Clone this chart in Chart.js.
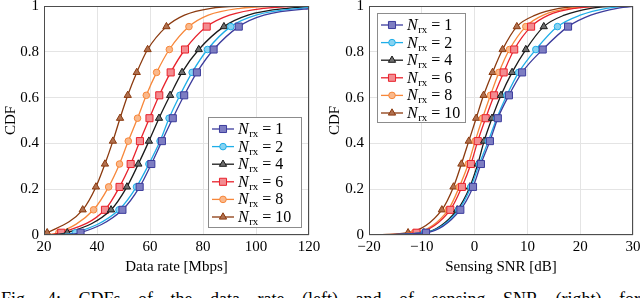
<!DOCTYPE html>
<html>
<head>
<meta charset="utf-8">
<script src="https://cdn.jsdelivr.net/npm/chart.js@4.4.0/dist/chart.umd.min.js"></script>
<style>
  html, body { margin: 0; padding: 0; background: #fff; }
  body { width: 640px; height: 298px; position: relative; overflow: hidden; }
  .box { position: absolute; top: 0; width: 320px; height: 276px; }
  #caption { position: absolute; left: 1px; top: 290px; font: 18px "Liberation Serif", serif; line-height: 18px; white-space: nowrap; word-spacing: 13px; color: #000; }
</style>
</head>
<body>
<div class="box" style="left:0"><canvas id="rateChart" width="320" height="276"></canvas></div>
<div class="box" style="left:320px"><canvas id="snrChart" width="320" height="276"></canvas></div>
<div id="caption">Fig. 4: CDFs of the data rate (left) and of sensing SNR (right) for</div>
<script>
// CDF levels; markers sit on the 0.01 ... 0.91 levels
const cdfLevels = [0, 0.01, 0.11, 0.21, 0.31, 0.41, 0.51, 0.61, 0.71, 0.81, 0.91, 0.96, 0.99, 1];
const markerIdx = [1, 2, 3, 4, 5, 6, 7, 8, 9, 10];

const rxCounts = ['1', '2', '4', '6', '8', '10'];

// data rate [Mbps] reached at each CDF level
const rateN1 = [26, 33.8, 49.6, 56.1, 60.5, 64.5, 68.6, 72.9, 77.7, 84.0, 93.5, 103, 122, 140];
const rateN2 = [25, 31.9, 48.3, 54.9, 59.6, 63.8, 67.2, 71.3, 75.9, 81.7, 90.5, 100, 117, 135];
const rateN4 = [23, 28.8, 45.3, 51.3, 55.6, 59.6, 63.4, 67.6, 72.1, 78.4, 87.9, 97, 112, 130];
const rateN6 = [22, 26.5, 43.0, 48.5, 52.7, 56.2, 59.8, 63.5, 67.8, 73.2, 81.4, 90, 103, 120];
const rateN8 = [21, 25.6, 38.7, 44.4, 48.5, 51.8, 55.3, 58.6, 62.5, 67.3, 74.7, 82, 94, 110];
const rateN10 = [19, 21.2, 34.6, 39.6, 43.0, 46.0, 48.7, 51.6, 55.0, 59.1, 66.2, 73, 83, 98];

// sensing SNR [dB] reached at each CDF level
const snrN1 = [-20, -9.2, -2.7, -0.3, 1.2, 2.9, 4.4, 6.5, 9.0, 12.9, 17.7, 22, 27, 31];
const snrN2 = [-20, -9.5, -3.0, -0.7, 0.9, 2.6, 4.2, 6.1, 8.35, 11.6, 15.7, 20, 25, 30];
const snrN4 = [-20, -9.6, -3.3, -0.9, 0.6, 1.8, 3.3, 5.0, 7.1, 9.7, 13.1, 17, 22, 27];
const snrN6 = [-20, -11.0, -4.6, -2.4, -0.7, 0.6, 2.1, 3.7, 5.5, 7.5, 10.7, 14, 19, 25];
const snrN8 = [-20, -11.4, -5.0, -2.9, -1.2, 0.1, 1.5, 3.0, 4.6, 6.6, 9.7, 13, 18, 24];
const snrN10 = [-20, -12.6, -6.2, -4.0, -2.5, -1.1, 0.3, 1.7, 3.4, 5.3, 8.0, 11.5, 16, 22];

const yTicks = [0, 0.2, 0.4, 0.6, 0.8, 1];
const rateTicks = [20, 40, 60, 80, 100, 120];
const snrTicks = [-20, -10, 0, 10, 20, 30];

const lineColors = ['#3c3c9c', '#1eaee8', '#1a1a1a', '#e8222c', '#f7873a', '#8b3a0f'];
const fillColors = ['#7d7dc2', '#86d3f2', '#6e6e6e', '#f38c91', '#fab88b', '#b0704f'];
const markerStyles = ['rect', 'circle', 'triangle', 'rect', 'circle', 'triangle'];
const markerRadius = { rect: 5, circle: 3.3, triangle: 4.2 };

const SERIF = '"Liberation Serif", "Times New Roman", serif';

const frameLegend = {
    id: 'frameLegend',
    afterDatasetsDraw(chart, args, opts) {
        const { ctx, chartArea: a } = chart;
        ctx.save();
        ctx.strokeStyle = '#4d4d4d';
        ctx.lineWidth = 1;
        ctx.strokeRect(a.left + 0.5, a.top + 0.5, a.right - a.left - 1, a.bottom - a.top - 1);

        // legend box
        const b = opts.box;
        ctx.fillStyle = '#fff';
        ctx.fillRect(b.x, b.y, b.w, b.h);
        ctx.strokeStyle = '#8c8c8c';
        ctx.strokeRect(b.x + 0.5, b.y + 0.5, b.w - 1, b.h - 1);

        chart.data.datasets.forEach((ds, i) => {
            const cy = b.y + 12 + i * 17.6;
            const x0 = b.x + 4;
            ctx.strokeStyle = ds.borderColor;
            ctx.lineWidth = 1.3;
            ctx.beginPath();
            ctx.moveTo(x0, cy);
            ctx.lineTo(x0 + 22, cy);
            ctx.stroke();
            ctx.fillStyle = ds.pointBackgroundColor;
            ctx.strokeStyle = ds.borderColor;
            ctx.lineWidth = 1;
            Chart.helpers.drawPoint(ctx, {
                pointStyle: ds.pointStyle,
                radius: markerRadius[ds.pointStyle],
                rotation: 0,
                borderWidth: 1
            }, x0 + 11, cy);

            // N_rx = k
            let tx = x0 + 26;
            const base = cy + 5;
            ctx.fillStyle = '#000';
            ctx.textBaseline = 'alphabetic';
            ctx.font = 'italic 16px ' + SERIF;
            ctx.fillText('N', tx, base);
            tx += ctx.measureText('N').width + 0.5;
            ctx.font = '11px ' + SERIF;
            ctx.fillText('rx', tx, base + 3);
            tx += ctx.measureText('rx').width;
            ctx.font = '16px ' + SERIF;
            ctx.fillText(' = ' + rxCounts[i], tx, base);
        });
        ctx.restore();
    }
};

function makeDatasets(xs) {
    return xs.map((vals, i) => ({
        data: vals.map((v, k) => ({ x: v, y: cdfLevels[k] })),
        borderColor: lineColors[i],
        backgroundColor: fillColors[i],
        pointBackgroundColor: fillColors[i],
        pointBorderColor: lineColors[i],
        pointStyle: markerStyles[i],
        pointBorderWidth: 1,
        pointRadius: ctx => markerIdx.includes(ctx.dataIndex) ? markerRadius[markerStyles[i]] : 0,
        borderWidth: 1.3,
        cubicInterpolationMode: 'monotone',
        fill: false
    }));
}

function buildChart(id, xs, xTicks, xTitle, yWidth, yTitlePad, rightPad, box) {
    new Chart(document.getElementById(id), {
        type: 'line',
        data: { datasets: makeDatasets(xs) },
        plugins: [frameLegend],
        options: {
            responsive: false,
            animation: false,
            events: [],
            layout: { padding: { left: 0, right: rightPad, top: 6, bottom: 0 } },
            plugins: {
                legend: { display: false },
                tooltip: { enabled: false },
                frameLegend: { box: box }
            },
            scales: {
                x: {
                    type: 'linear',
                    min: xTicks[0],
                    max: xTicks[xTicks.length - 1],
                    afterBuildTicks: s => { s.ticks = xTicks.map(v => ({ value: v })); },
                    afterFit: s => { s.height = 41; s.paddingLeft = 0; s.paddingRight = 0; },
                    grid: { color: '#e4e4e4', drawTicks: false },
                    border: { display: false },
                    ticks: {
                        color: '#000',
                        font: { family: SERIF, size: 15 },
                        padding: 3,
                        maxRotation: 0,
                        autoSkip: false,
                        callback: v => v < 0 ? '\u2212' + Math.abs(v) : String(v)
                    },
                    title: {
                        display: true,
                        text: xTitle,
                        color: '#000',
                        font: { family: SERIF, size: 15 },
                        padding: { top: 0, bottom: 0 }
                    }
                },
                y: {
                    min: 0,
                    max: 1,
                    afterBuildTicks: s => { s.ticks = yTicks.map(v => ({ value: v })); },
                    afterFit: s => { s.width = yWidth; s.paddingTop = 0; s.paddingBottom = 0; },
                    grid: { color: '#e4e4e4', drawTicks: false },
                    border: { display: false },
                    ticks: {
                        color: '#000',
                        font: { family: SERIF, size: 15 },
                        padding: 5,
                        callback: v => (v === 0 || v === 1) ? String(v) : v.toFixed(1)
                    },
                    title: {
                        display: true,
                        text: 'CDF',
                        color: '#000',
                        font: { family: SERIF, size: 15 },
                        padding: { top: yTitlePad, bottom: 0 }
                    }
                }
            }
        }
    });
}

buildChart('rateChart', [rateN1, rateN2, rateN4, rateN6, rateN8, rateN10], rateTicks,
    'Data rate [Mbps]', 44, 2, 11, { x: 208, y: 117, w: 94, h: 111 });
buildChart('snrChart', [snrN1, snrN2, snrN4, snrN6, snrN8, snrN10], snrTicks,
    'Sensing SNR [dB]', 49, 6, 7, { x: 57, y: 13, w: 89, h: 110 });
</script>
</body>
</html>
